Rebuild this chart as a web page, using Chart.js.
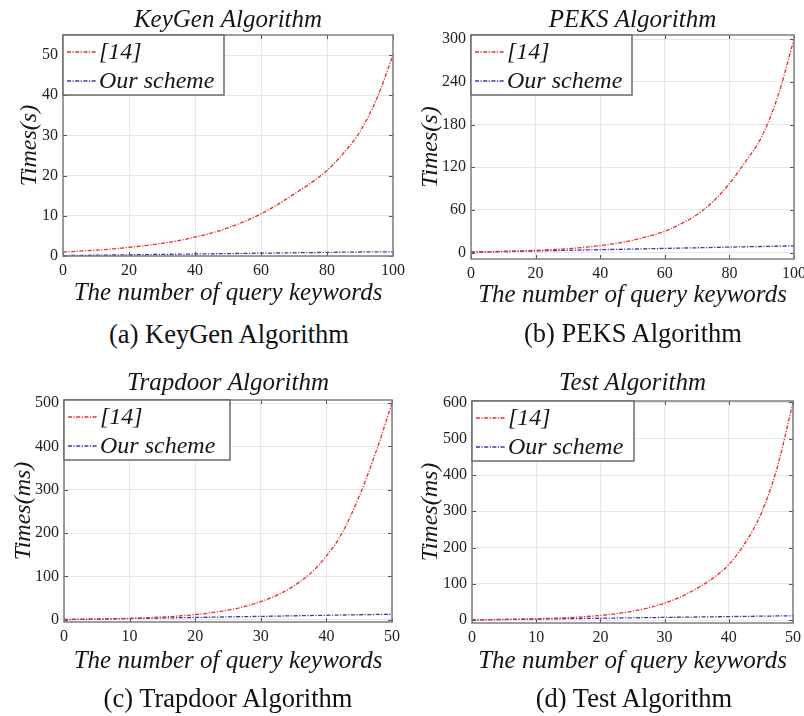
<!DOCTYPE html>
<html><head><meta charset="utf-8">
<script src="https://cdn.jsdelivr.net/npm/chart.js@4.4.0/dist/chart.umd.min.js"></script>
<style>
html,body{margin:0;padding:0;background:#fff;overflow:hidden;width:804px;height:716px;}
#wrap{position:relative;width:804px;height:716px;overflow:hidden;background:#fff;}
canvas{position:absolute;}
.cap{position:absolute;font-family:"Liberation Serif",serif;font-size:26.5px;color:#111;white-space:nowrap;transform:translate(-50%,-50%);}
</style></head><body><div id="wrap">
<canvas id="ca"></canvas>
<canvas id="cb"></canvas>
<canvas id="cc"></canvas>
<canvas id="cd"></canvas>
<div class="cap" style="left:229px;top:334px">(a) KeyGen Algorithm</div>
<div class="cap" style="left:633px;top:333px">(b) PEKS Algorithm</div>
<div class="cap" style="left:228px;top:698px">(c) Trapdoor Algorithm</div>
<div class="cap" style="left:634px;top:698px">(d) Test Algorithm</div>
</div>
<script>
// ---------- data ----------
const seriesNames = ["[14]", "Our scheme"];
const titles = ["KeyGen Algorithm", "PEKS Algorithm", "Trapdoor Algorithm", "Test Algorithm"];
const yLabels = ["Times(s)", "Times(s)", "Times(ms)", "Times(ms)"];
const xLabel = "The number of query keywords";

const xA = [0,5,10,15,20,25,30,35,40,45,50,55,60,65,70,75,80,85,90,95,100];
const refA = [1.0,1.2,1.45,1.75,2.15,2.6,3.15,3.8,4.7,5.7,7.0,8.6,10.5,12.8,15.4,18.1,21.3,25.6,31.0,39.0,50.0];
const oursA = [0.1,0.15,0.2,0.25,0.3,0.35,0.4,0.45,0.5,0.55,0.6,0.65,0.7,0.75,0.8,0.85,0.9,0.95,1.0,1.02,1.05];

const xB = [0,5,10,15,20,25,30,35,40,45,50,55,60,65,70,75,80,85,90,95,100];
const refB = [1.0,1.33,1.77,2.35,3.1,4.2,5.5,7.4,9.8,13,17.3,23,30,40.5,53.5,72,97,128,163,220,300];
const oursB = [0.5,0.95,1.4,1.85,2.3,2.75,3.2,3.65,4.1,4.55,5.0,5.45,5.9,6.35,6.8,7.25,7.7,8.15,8.6,9.05,9.5];

const xC = [0,2.5,5,7.5,10,12.5,15,17.5,20,22.5,25,27.5,30,32.5,35,37.5,40,42.5,45,47.5,50];
const refC = [1,1.36,1.86,2.54,3.47,4.73,6.45,8.8,12,16.4,22.4,30.5,42,57,78,106,147,203,285,385,500];
const oursC = [0.5,1.1,1.75,2.4,3.0,3.6,4.25,4.9,5.5,6.1,6.75,7.4,8.0,8.6,9.25,9.9,10.5,11.1,11.75,12.4,13.0];

const xD = [0,2.5,5,7.5,10,12.5,15,17.5,20,22.5,25,27.5,30,32.5,35,37.5,40,42.5,45,47.5,50];
const refD = [1,1.38,1.9,2.6,3.6,4.95,6.8,9.4,12.9,17.8,24.5,33.7,47,64,87,115,153,212,292,418,600];
const oursD = [0.5,1.1,1.65,2.2,2.8,3.4,3.95,4.5,5.1,5.7,6.25,6.8,7.4,8.0,8.55,9.1,9.7,10.3,10.85,11.4,12.0];

const xTicksAB = [0,20,40,60,80,100];
const xTicksCD = [0,10,20,30,40,50];
const yTicksA = [0,10,20,30,40,50];
const yTicksB = [0,60,120,180,240,300];
const yTicksC = [0,100,200,300,400,500];
const yTicksD = [0,100,200,300,400,500,600];

// ---------- styling / layout ----------
const RED = '#e4302b', BLUE = '#3535b0';
const SERIF = '"Liberation Serif", "Times New Roman", serif';
const DASH = [4, 1.5, 1.2, 1.5];

const deco = {
  id: 'deco',
  afterDraw(chart, args, o) {
    const {ctx, chartArea: a, scales: {x, y}} = chart;
    ctx.save();
    // inward tick marks
    ctx.strokeStyle = '#555'; ctx.lineWidth = 1;
    ctx.beginPath();
    x.ticks.forEach(t => {
      const p = Math.round(x.getPixelForValue(t.value)) + 0.5;
      ctx.moveTo(p, a.bottom); ctx.lineTo(p, a.bottom - 4);
      ctx.moveTo(p, a.top); ctx.lineTo(p, a.top + 4);
    });
    y.ticks.forEach(t => {
      const p = Math.round(y.getPixelForValue(t.value)) + 0.5;
      ctx.moveTo(a.left, p); ctx.lineTo(a.left + 4, p);
      ctx.moveTo(a.right, p); ctx.lineTo(a.right - 4, p);
    });
    ctx.stroke();
    // axes box
    ctx.strokeStyle = '#7d7d7d'; ctx.lineWidth = 1.5;
    ctx.strokeRect(a.left, a.top, a.right - a.left, a.bottom - a.top);
    // title
    ctx.fillStyle = '#151515';
    ctx.font = 'italic 25px ' + SERIF;
    ctx.textAlign = 'center'; ctx.textBaseline = 'middle';
    ctx.fillText(o.title, (a.left + a.right) / 2, a.top - o.titleGap);
    // legend
    const lw = o.legendW, lh = 60;
    ctx.fillStyle = '#fff';
    ctx.fillRect(a.left, a.top, lw, lh);
    ctx.strokeStyle = '#6a6a6a'; ctx.lineWidth = 1.5;
    ctx.strokeRect(a.left, a.top, lw, lh);
    ctx.font = 'italic 24px ' + SERIF;
    ctx.textAlign = 'left';
    chart.data.datasets.forEach((ds, i) => {
      const yy = a.top + 17 + i * 29;
      ctx.strokeStyle = ds.borderColor; ctx.lineWidth = 1.3;
      ctx.setLineDash(ds.borderDash);
      ctx.beginPath(); ctx.moveTo(a.left + 4, yy); ctx.lineTo(a.left + 34, yy); ctx.stroke();
      ctx.setLineDash([]);
      ctx.fillStyle = '#151515';
      ctx.fillText(ds.label, a.left + 36, yy + 1);
    });
    ctx.restore();
  }
};

function toPts(xs, ys) { return xs.map((v, i) => ({x: v, y: ys[i]})); }

function panel(id, g) {
  const cv = document.getElementById(id);
  cv.width = g.W; cv.height = g.H;
  cv.style.left = g.L + 'px'; cv.style.top = g.T + 'px';
  cv.style.width = g.W + 'px'; cv.style.height = g.H + 'px';
  const yW = g.left - g.L, xH = g.T + g.H - g.bottom, padR = g.L + g.W - g.right, padT = g.top - g.T;
  new Chart(cv, {
    type: 'line',
    data: {
      datasets: [
        {label: seriesNames[0], data: toPts(g.xs, g.ref), borderColor: RED, borderWidth: 1.3, borderDash: DASH, pointRadius: 0, cubicInterpolationMode: 'monotone', fill: false},
        {label: seriesNames[1], data: toPts(g.xs, g.ours), borderColor: BLUE, borderWidth: 1.3, borderDash: DASH, pointRadius: 0, cubicInterpolationMode: 'monotone', fill: false}
      ]
    },
    options: {
      responsive: false, animation: false, devicePixelRatio: 1,
      layout: {padding: {left: 0, top: padT, right: padR, bottom: 0}},
      plugins: {legend: {display: false}, tooltip: {enabled: false}, title: {display: false},
        deco: {title: g.title, titleGap: g.titleGap, legendW: g.legendW}},
      scales: {
        x: {
          type: 'linear', min: g.xmin, max: g.xmax,
          afterBuildTicks: s => { s.ticks = g.xticks.map(v => ({value: v})); },
          afterFit: s => { s.height = xH; },
          grid: {color: '#e6e6e6', drawTicks: false},
          border: {display: false},
          ticks: {padding: g.xtp, color: '#222', font: {family: SERIF, size: 16}, maxRotation: 0},
          title: {display: true, text: xLabel, color: '#151515', font: {family: SERIF, size: 25, style: 'italic'}, padding: {top: 0, bottom: g.xtb}}
        },
        y: {
          type: 'linear', min: g.ymin, max: g.ymax,
          afterBuildTicks: s => { s.ticks = g.yticks.map(v => ({value: v})); },
          afterFit: s => { s.width = yW; },
          grid: {color: '#e6e6e6', drawTicks: false},
          border: {display: false},
          ticks: {padding: 5, color: '#222', font: {family: SERIF, size: 16}},
          title: {display: true, text: g.ylabel, color: '#151515', font: {family: SERIF, size: 24, style: 'italic'}, padding: {top: g.ytp, bottom: 0}}
        }
      }
    },
    plugins: [deco]
  });
}

panel('ca', {L: 0, T: 0, W: 440, H: 315, left: 63, right: 393, top: 35, bottom: 256,
  xs: xA, ref: refA, ours: oursA, xmin: 0, xmax: 100, ymin: 0, ymax: 55, xticks: xTicksAB, yticks: yTicksA,
  title: titles[0], ylabel: yLabels[0], titleGap: 15, legendW: 161, xtp: 5, xtb: 7, ytp: 15});
panel('cb', {L: 404, T: 0, W: 440, H: 315, left: 471, right: 794, top: 35, bottom: 259,
  xs: xB, ref: refB, ours: oursB, xmin: 0, xmax: 100, ymin: -9, ymax: 306, xticks: xTicksAB, yticks: yTicksB,
  title: titles[1], ylabel: yLabels[1], titleGap: 15, legendW: 161, xtp: 5, xtb: 5, ytp: 12});
panel('cc', {L: 0, T: 358, W: 440, H: 330, left: 64, right: 392, top: 400, bottom: 622,
  xs: xC, ref: refC, ours: oursC, xmin: 0, xmax: 50, ymin: -5, ymax: 507, xticks: xTicksCD, yticks: yTicksC,
  title: titles[2], ylabel: yLabels[2], titleGap: 17, legendW: 166, xtp: 5, xtb: 12, ytp: 9});
panel('cd', {L: 404, T: 358, W: 440, H: 330, left: 472, right: 793, top: 401, bottom: 623,
  xs: xD, ref: refD, ours: oursD, xmin: 0, xmax: 50, ymin: -8, ymax: 604, xticks: xTicksCD, yticks: yTicksD,
  title: titles[3], ylabel: yLabels[3], titleGap: 18, legendW: 162, xtp: 5, xtb: 12, ytp: 12});
</script>
</body></html>
